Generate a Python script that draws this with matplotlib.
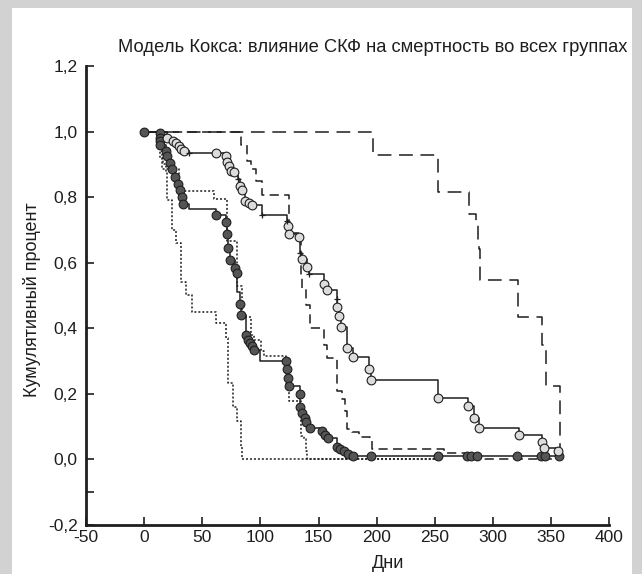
import numpy as np
import matplotlib
matplotlib.use("Agg")
import matplotlib.pyplot as plt
from matplotlib.patches import Rectangle

plt.rcParams['font.family'] = ['Liberation Sans Narrow', 'Liberation Sans', 'DejaVu Sans']

# кривые выживаемости: время (дни) и кумулятивный процент после шага
# A - длинный пунктир
a_t = [0, 197, 253, 279, 285, 287, 288, 289, 321.5, 342.5, 345.3, 357.7]
a_s = [1.0, 0.927, 0.815, 0.748, 0.72, 0.67, 0.64, 0.546, 0.435, 0.349, 0.223, 0.0]

# E - короткий пунктир
e_t = [0, 83, 88.7, 91.6, 95.9, 101.6, 124.5, 134.5, 136, 138.8, 143, 154.5, 157.4,
       165.9, 170.2, 173.1, 174.5, 178.8, 184.6, 194.6, 196, 257.5, 276.5, 358]
e_s = [1.0, 0.958, 0.91, 0.885, 0.85, 0.806, 0.69, 0.557, 0.52, 0.471, 0.40, 0.349, 0.309,
       0.208, 0.183, 0.147, 0.092, 0.082, 0.067, 0.057, 0.031, 0.018, 0.0, 0.0]

# D1, D2 - точечные
d1_t = [0, 13, 14, 16, 19, 20, 24.3, 27.2, 31.5, 36, 41, 61.5, 70.7, 72.4, 76.4, 80, 83, 84.4, 255]
d1_s = [1.0, 0.955, 0.92, 0.90, 0.875, 0.79, 0.70, 0.66, 0.54, 0.50, 0.45, 0.415, 0.37, 0.233,
        0.16, 0.117, 0.036, 0.0, 0.0]

d2_t = [0, 14, 15, 30, 31.5, 60.1, 71, 80.1, 84.4, 91.6, 94.4, 100.2, 103, 122, 124.5,
        134.5, 137.3, 138.8, 140.2, 255]
d2_s = [1.0, 0.94, 0.885, 0.834, 0.819, 0.795, 0.665, 0.527, 0.435, 0.38, 0.365, 0.33, 0.314,
        0.228, 0.178, 0.072, 0.06, 0.026, 0.0, 0.0]

# B - сплошная, тёмные точки
b_t = [0, 13.2, 13.5, 13.8, 14, 19, 19.5, 21.8, 23.6, 26.3, 29.2, 30.6, 32.3, 33.5, 38.6,
       61.8, 70.5, 71.5, 72.4, 74.2, 77.8, 79.5, 80, 82.8, 83.5, 87.3, 89.6, 91, 92.4, 94.4,
       100, 121.6, 123, 124, 124.3, 133.6, 134, 136, 138.2, 139.5, 142.2, 153, 155.4, 158.2,
       166, 168.8, 171.7, 175.4, 179.4, 358]
b_s = [1.0, 0.996, 0.98, 0.97, 0.96, 0.94, 0.926, 0.905, 0.885, 0.86, 0.84, 0.82, 0.80, 0.78, 0.764,
       0.745, 0.724, 0.687, 0.643, 0.607, 0.582, 0.567, 0.51, 0.473, 0.44, 0.38, 0.365, 0.355, 0.345, 0.333,
       0.30, 0.299, 0.274, 0.248, 0.223, 0.198, 0.16, 0.142, 0.127, 0.112, 0.094, 0.087, 0.075, 0.064,
       0.038, 0.031, 0.024, 0.016, 0.010, 0.010]
b_dots = [0, 13.2, 13.5, 13.8, 14, 19, 19.5, 21.8, 23.6, 26.3, 29.2, 30.6, 32.3, 33.5, 61.8, 70.5,
          71.5, 72.4, 74.2, 77.8, 79.5, 82.8, 83.5, 87.3, 89.6, 91, 92.4, 94.4, 121.6, 123, 124,
          124.3, 133.6, 134, 136, 138.2, 139.5, 142.2, 153, 155.4, 158.2, 166, 168.8, 171.7, 175.4,
          179.4, 195, 253, 277.5, 281, 286, 321, 341.5, 344.5, 356.5]

# C - сплошная, светлые кружки и крестики
c_t = [0, 20, 25, 27, 30, 32, 34.5, 38.6, 62, 70.7, 71.5, 73, 75, 77.3, 81, 82.5, 84, 86.7, 90, 93,
       101, 123, 124, 124.5, 133, 134, 136, 140, 142, 155, 157.4, 165.5, 166, 167.4, 169.7, 174.5,
       179.4, 193.7, 195.4, 253, 278.4, 284, 287.6, 322, 342, 344, 356, 358]
c_s = [1.0, 0.98, 0.97, 0.964, 0.955, 0.947, 0.94, 0.935, 0.935, 0.926, 0.907, 0.894, 0.88, 0.875,
       0.855, 0.834, 0.82, 0.788, 0.782, 0.775, 0.744, 0.728, 0.711, 0.688, 0.678, 0.63, 0.61, 0.587,
       0.564, 0.535, 0.516, 0.489, 0.463, 0.437, 0.403, 0.339, 0.311, 0.276, 0.243, 0.188, 0.163,
       0.127, 0.095, 0.075, 0.052, 0.034, 0.024, 0.0]
c_circles = [20, 25, 27, 30, 32, 34.5, 62, 70.7, 71.5, 73, 75, 77.3, 82.5, 84, 86.7, 90, 93, 124,
             124.5, 133, 136, 140, 155, 157.4, 166, 167.4, 169.7, 174.5, 179.4, 193.7, 195.4, 253,
             278.4, 284, 287.6, 322, 342, 344, 356]
c_plus = [38.6, 81, 101, 123, 134, 142, 165.5]

x_ticks = [-50, 0, 50, 100, 150, 200, 250, 300, 350, 400]
y_ticks = [-0.2, 0.0, 0.2, 0.4, 0.6, 0.8, 1.0, 1.2]
y_labels = ['-0,2', '0,0', '0,2', '0,4', '0,6', '0,8', '1,0', '1,2']


def at(t, s, pts):
    idx = np.searchsorted(t, pts, side='right') - 1
    return np.array(s)[idx]


fig = plt.figure(figsize=(6.42, 5.74), dpi=100)
# серая рамка
for r in [(0, 0, 12 / 642, 1), (0, 1 - 8 / 574, 1, 8 / 574), (1 - 10 / 642, 0, 10 / 642, 1)]:
    fig.add_artist(Rectangle(r[:2], r[2], r[3], transform=fig.transFigure,
                             color='#d2d2d2', lw=0, zorder=-5))

ax = fig.add_axes([0.134, 0.086, 0.815, 0.799])
ink = '#1e1e1e'

ax.step(d1_t, d1_s, where='post', color=ink, lw=1.1, dashes=(1.3, 1.3))
ax.step(d2_t, d2_s, where='post', color=ink, lw=1.1, dashes=(1.3, 1.3))
ax.step(a_t, a_s, where='post', color=ink, lw=1.1, dashes=(9, 5))
ax.step(e_t, e_s, where='post', color=ink, lw=1.1, dashes=(6, 3.5))
ax.step(b_t, b_s, where='post', color=ink, lw=1.1)
ax.step(c_t, c_s, where='post', color=ink, lw=1.1)

ax.plot(b_dots, at(b_t, b_s, b_dots), 'o', ms=6.3, mfc='#555555', mec='#1e1e1e', mew=0.8, zorder=5)
ax.plot(c_circles, at(c_t, c_s, c_circles), 'o', ms=6.3, mfc='#dcdcdc', mec='#1e1e1e', mew=0.8, zorder=5)
ax.plot(c_plus, at(c_t, c_s, c_plus), '+', ms=5, color=ink, mew=0.9, zorder=5)

ax.set_xlim(-50, 400)
ax.set_ylim(-0.2, 1.2)
ax.set_xticks(x_ticks)
ax.set_xticklabels([str(v) for v in x_ticks])
ax.set_yticks(y_ticks)
ax.set_yticklabels(y_labels)
ax.set_yticks([-0.1], minor=True)
for s in ['top', 'right']:
    ax.spines[s].set_visible(False)
for s in ['left', 'bottom']:
    ax.spines[s].set_linewidth(2)
    ax.spines[s].set_color(ink)
ax.tick_params(axis='both', which='both', direction='in', length=6, width=1.2,
               color=ink, labelsize=12.5, labelcolor=ink)
ax.tick_params(axis='y', pad=6)
ax.tick_params(axis='x', pad=4)

fig.text(118 / 642, 1 - 47 / 574, 'Модель Кокса: влияние СКФ на смертность во всех группах',
         fontsize=13.2, ha='left', va='center', color=ink)
fig.text(32 / 642, 1 - 300 / 574, 'Кумулятивный процент', rotation=90,
         fontsize=13, ha='center', va='center', color=ink)
fig.text(388 / 642, 1 - 563 / 574, 'Дни', fontsize=13, ha='center', va='center', color=ink)

fig.savefig('out.png', dpi=100)
